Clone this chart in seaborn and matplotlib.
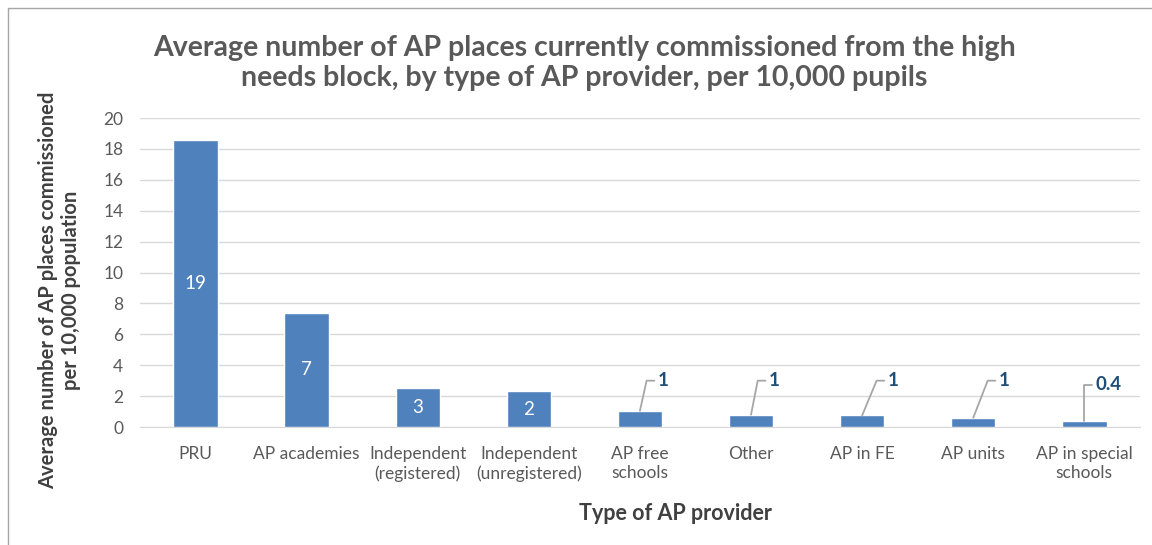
import matplotlib
matplotlib.use("Agg")
import matplotlib.pyplot as plt
import seaborn as sns
import pandas as pd
from matplotlib.lines import Line2D

providers = ["PRU", "AP academies", "Independent\n(registered)", "Independent\n(unregistered)",
             "AP free\nschools", "Other", "AP in FE", "AP units", "AP in special\nschools"]
places = [18.6, 7.4, 2.55, 2.3, 1.05, 0.8, 0.75, 0.6, 0.4]
labels = ["19", "7", "3", "2", "1", "1", "1", "1", "0.4"]

df = pd.DataFrame({"provider": providers, "places": places})

sns.set_style("white")
plt.rcParams["font.family"] = ["Lato", "DejaVu Sans"]

fig = plt.figure(figsize=(11.52, 5.45), dpi=100)
ax = fig.add_axes([0.1215, 0.2165, 0.868, 0.5668])

sns.barplot(data=df, x="provider", y="places", color="#4F81BD", width=0.4, saturation=1, ax=ax, zorder=3)

ax.set_ylim(0, 20)
ax.set_yticks(range(0, 21, 2))
ax.set_xlim(-0.5, len(providers) - 0.5)
ax.yaxis.grid(True, color="#D9D9D9", linewidth=1, zorder=0)
for s in ["top", "right", "left"]:
    ax.spines[s].set_visible(False)
ax.spines["bottom"].set_color("#D9D9D9")
ax.tick_params(axis="both", length=0, colors="#595959", labelsize=12.5)
ax.tick_params(axis="x", pad=14)
ax.tick_params(axis="y", pad=12)

# labels: white inside the big bars, callouts for the small ones
for i, (v, lab) in enumerate(zip(places, labels)):
    if v > 2:
        ax.text(i, v / 2, lab, ha="center", va="center", color="white", fontsize=13.5)
    else:
        dx = 0.06 if v > 0.5 else 0.0
        if i == 6 or i == 7:
            dx = 0.13
        ty = 3.0 if v > 0.5 else 2.75
        ax.plot([i, i + dx, i + dx + 0.07], [v, ty, ty], color="#A6A6A6", linewidth=1.3, zorder=4)
        ax.text(i + dx + 0.1, ty, lab, ha="left", va="center", color="#1F4E79",
                fontsize=13.5, fontweight="bold")

ax.set_xlabel("Type of AP provider", fontsize=15.5, fontweight="bold", color="#404040")
ax.xaxis.set_label_coords(0.536, -0.245)
ax.set_ylabel("Average number of AP places commissioned\nper 10,000 population", fontsize=14.5,
              fontweight="bold", color="#404040")
ax.yaxis.set_label_coords(-0.059, 0.443)

fig.text(0.507, 0.885, "Average number of AP places currently commissioned from the high\n"
         "needs block, by type of AP provider, per 10,000 pupils",
         ha="center", va="center", fontsize=20.5, fontweight="bold", color="#595959", linespacing=1.2)

# border of the chart area
fig.add_artist(Line2D([8 / 1152, 8 / 1152], [0, 1 - 8 / 545], color="#A6A6A6", linewidth=1))
fig.add_artist(Line2D([8 / 1152, 1], [1 - 8 / 545, 1 - 8 / 545], color="#A6A6A6", linewidth=1))

fig.savefig("out.png", dpi=100)
